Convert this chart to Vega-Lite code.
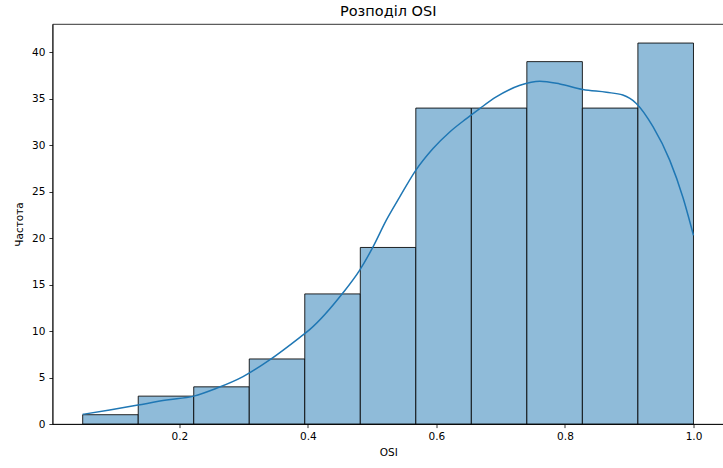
{
  "$schema": "https://vega.github.io/schema/vega-lite/v6.json",
  "width": 671.5,
  "height": 400,
  "autosize": {"type": "none"},
  "padding": {"left": 52.5, "top": 24, "right": 0, "bottom": 44},
  "background": "white",
  "config": {
    "font": "DejaVu Sans",
    "view": {"stroke": "black", "strokeWidth": 0.8},
    "axis": {
      "grid": false,
      "domainColor": "black",
      "domainWidth": 0.8,
      "tickColor": "black",
      "tickWidth": 0.8,
      "tickSize": 3.6,
      "labelColor": "black",
      "labelFont": "DejaVu Sans",
      "labelFontSize": 10.5,
      "labelPadding": 4,
      "titleColor": "black",
      "titleFont": "DejaVu Sans",
      "titleFontSize": 10.5,
      "titleFontWeight": "normal"
    }
  },
  "title": {
    "text": "Розподіл OSI",
    "font": "DejaVu Sans",
    "fontSize": 14.5,
    "fontWeight": "normal",
    "color": "black",
    "anchor": "middle",
    "offset": 5
  },
  "datasets": {
    "bins": [
      {"start": 0.0495, "end": 0.1359, "count": 1},
      {"start": 0.1359, "end": 0.2223, "count": 3},
      {"start": 0.2223, "end": 0.3087, "count": 4},
      {"start": 0.3087, "end": 0.3951, "count": 7},
      {"start": 0.3951, "end": 0.4815, "count": 14},
      {"start": 0.4815, "end": 0.5679, "count": 19},
      {"start": 0.5679, "end": 0.6543, "count": 34},
      {"start": 0.6543, "end": 0.7407, "count": 34},
      {"start": 0.7407, "end": 0.8271, "count": 39},
      {"start": 0.8271, "end": 0.9135, "count": 34},
      {"start": 0.9135, "end": 1.0, "count": 41}
    ],
    "kde": [
      {"osi": 0.0495, "density": 1.04},
      {"osi": 0.0915, "density": 1.5},
      {"osi": 0.1356, "density": 2.04},
      {"osi": 0.18, "density": 2.58},
      {"osi": 0.2223, "density": 3.0},
      {"osi": 0.2576, "density": 3.84},
      {"osi": 0.299, "density": 5.1},
      {"osi": 0.3405, "density": 6.9},
      {"osi": 0.387, "density": 9.3},
      {"osi": 0.4031, "density": 10.18},
      {"osi": 0.4546, "density": 14.12},
      {"osi": 0.4806, "density": 16.56},
      {"osi": 0.5013, "density": 19.06},
      {"osi": 0.522, "density": 21.94},
      {"osi": 0.5429, "density": 24.44},
      {"osi": 0.5678, "density": 27.3},
      {"osi": 0.5947, "density": 29.65},
      {"osi": 0.6207, "density": 31.43},
      {"osi": 0.6467, "density": 32.87},
      {"osi": 0.6674, "density": 33.95},
      {"osi": 0.693, "density": 35.2},
      {"osi": 0.73, "density": 36.45},
      {"osi": 0.761, "density": 36.9},
      {"osi": 0.792, "density": 36.6},
      {"osi": 0.828, "density": 36.0},
      {"osi": 0.8646, "density": 35.7},
      {"osi": 0.89, "density": 35.4},
      {"osi": 0.911, "density": 34.5},
      {"osi": 0.937, "density": 32.0},
      {"osi": 0.963, "density": 28.4},
      {"osi": 0.9835, "density": 24.4},
      {"osi": 1.0, "density": 20.3}
    ]
  },
  "layer": [
    {
      "data": {"name": "bins"},
      "mark": {"type": "rect", "fill": "#8fbbd9", "stroke": "black", "strokeWidth": 1, "strokeOpacity": 0.85},
      "encoding": {
        "x": {
          "field": "start",
          "type": "quantitative",
          "scale": {"domain": [0.0025, 1.0475], "nice": false, "zero": false},
          "axis": {"values": [0.2, 0.4, 0.6, 0.8, 1.0], "format": ".1f", "title": "OSI", "titlePadding": 5}
        },
        "x2": {"field": "end"},
        "y": {
          "field": "count",
          "type": "quantitative",
          "scale": {"domain": [0, 43.05], "nice": false},
          "axis": {"values": [0, 5, 10, 15, 20, 25, 30, 35, 40], "title": "Частота", "titlePadding": 7}
        },
        "y2": {"datum": 0}
      }
    },
    {
      "data": {"name": "kde"},
      "mark": {"type": "line", "color": "#1f77b4", "strokeWidth": 1.5, "interpolate": "monotone"},
      "encoding": {
        "x": {"field": "osi", "type": "quantitative"},
        "y": {"field": "density", "type": "quantitative"}
      }
    }
  ]
}
